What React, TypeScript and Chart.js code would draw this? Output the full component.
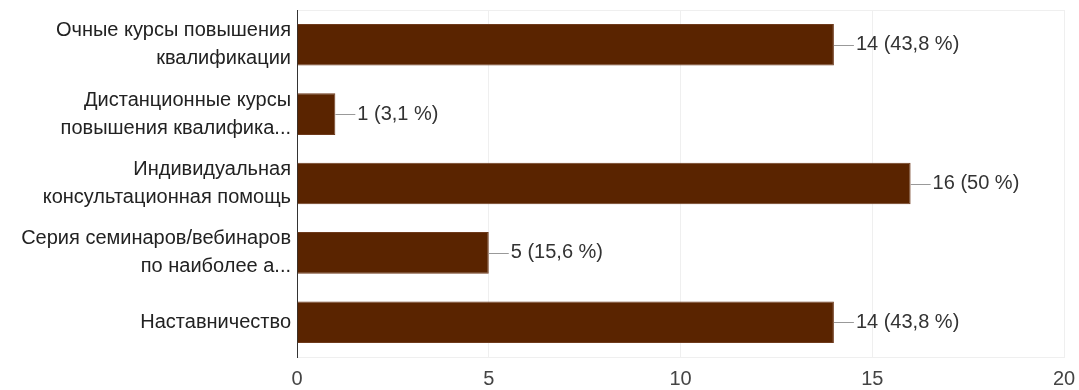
import React, { useEffect, useRef } from "react";
import { Chart, registerables } from "chart.js";

Chart.register(...registerables);

const categories: (string | string[])[] = [
  ["Очные курсы повышения", "квалификации"],
  ["Дистанционные курсы", "повышения квалифика..."],
  ["Индивидуальная", "консультационная помощь"],
  ["Серия семинаров/вебинаров", "по наиболее а..."],
  "Наставничество",
];
const counts = [14, 1, 16, 5, 14];
const percents = ["43,8 %", "3,1 %", "50 %", "15,6 %", "43,8 %"];
const xTicks = [0, 5, 10, 15, 20];

const FONT = "'Liberation Sans', Arial, sans-serif";
const BAR_COLOR = "#5a2400";

const valueLabelPlugin = {
  id: "valueLabels",
  afterDatasetsDraw(chart: any) {
    const ctx = chart.ctx;
    const meta = chart.getDatasetMeta(0);
    ctx.save();
    meta.data.forEach((bar: any, i: number) => {
      const x = bar.x;
      const y = bar.y;
      ctx.strokeStyle = "#999";
      ctx.lineWidth = 1;
      ctx.beginPath();
      ctx.moveTo(x, Math.round(y) + 0.5);
      ctx.lineTo(x + 20, Math.round(y) + 0.5);
      ctx.stroke();
      ctx.fillStyle = "#333";
      ctx.font = `20px ${FONT}`;
      ctx.textAlign = "left";
      ctx.textBaseline = "middle";
      ctx.fillText(`${counts[i]} (${percents[i]})`, x + 22, y);
    });
    ctx.restore();
  },
};

export default function App() {
  const ref = useRef<HTMLCanvasElement | null>(null);
  useEffect(() => {
    if (!ref.current) return;
    const chart = new Chart(ref.current, {
      type: "bar",
      data: {
        labels: categories,
        datasets: [
          {
            data: counts,
            backgroundColor: BAR_COLOR,
            borderColor: "#6e3a1c",
            borderWidth: 1,
            barPercentage: 0.6,
            categoryPercentage: 1.0,
          },
        ],
      },
      options: {
        indexAxis: "y",
        animation: false,
        responsive: true,
        maintainAspectRatio: false,
        layout: { padding: { top: 10, right: 15, left: 0, bottom: 0 } },
        plugins: {
          legend: { display: false },
          tooltip: { enabled: false },
        },
        scales: {
          x: {
            min: 0,
            max: 20,
            afterBuildTicks(scale: any) {
              scale.ticks = xTicks.map((v) => ({ value: v }));
            },
            afterFit(scale: any) {
              scale.height = 33;
              scale.paddingLeft = 0;
              scale.paddingRight = 0;
            },
            grid: {
              drawTicks: false,
              color: (c: any) => (c.tick && c.tick.value === 0 ? "rgba(0,0,0,0)" : "#efefef"),
            },
            border: { display: true, color: "#efefef" },
            ticks: {
              padding: 10,
              color: "#444",
              font: { family: FONT, size: 20 },
            },
          },
          y: {
            afterFit(scale: any) {
              scale.width = 297;
              scale.paddingTop = 0;
              scale.paddingBottom = 0;
            },
            grid: {
              drawTicks: false,
              color: (c: any) => (c.index === 0 ? "#efefef" : "rgba(0,0,0,0)"),
            },
            border: { display: true, color: "#333" },
            ticks: {
              padding: 6,
              color: "#222",
              font: { family: FONT, size: 20, lineHeight: 1.4 },
            },
          },
        },
      },
      plugins: [valueLabelPlugin],
    });
    return () => chart.destroy();
  }, []);
  return (
    <div style={{ position: "absolute", left: 0, top: 0, width: 1079, height: 390 }}>
      <canvas ref={ref} />
    </div>
  );
}
